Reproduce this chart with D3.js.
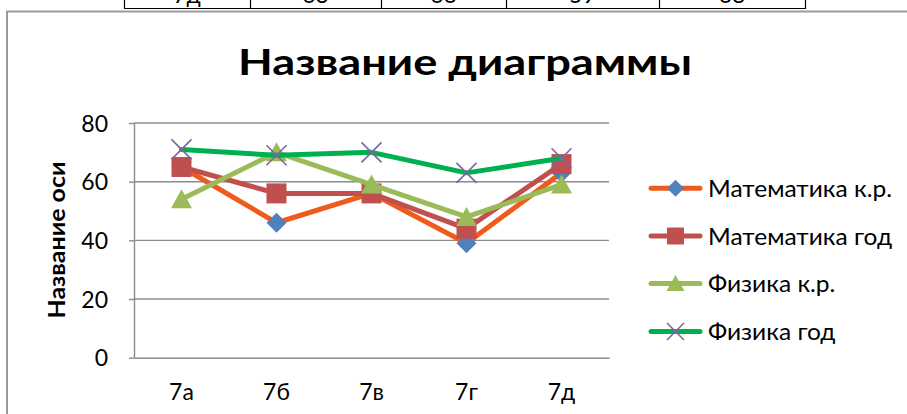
<!DOCTYPE html>
<html>
<head>
<meta charset="utf-8">
<script src="https://cdn.jsdelivr.net/npm/d3@7/dist/d3.min.js"></script>
<style>
  html, body { margin: 0; padding: 0; background: #fff; }
  svg { display: block; }
  text { font-family: Lato, "Open Sans", sans-serif; fill: #000; }
</style>
</head>
<body>
<svg id="chart" width="907" height="414"></svg>
<script>
// Классы и результаты
const classes = ["7а", "7б", "7в", "7г", "7д"];
const mathTest = [65, 46, 56, 39, 63];   // Математика к.р.
const mathYear = [65, 56, 56, 44, 66];   // Математика год
const physTest = [54, 70, 59, 48, 59];   // Физика к.р.
const physYear = [71, 69, 70, 63, 68];   // Физика год
const yTicks = [0, 20, 40, 60, 80];

const chartTitle = "Название диаграммы";
const yAxisTitle = "Название оси";

const series = [
  { name: "Математика к.р.", values: mathTest, line: "#EF5B1F", marker: "diamond", fill: "#4F81BD" },
  { name: "Математика год",  values: mathYear, line: "#C0504D", marker: "square",  fill: "#C0504D" },
  { name: "Физика к.р.",     values: physTest, line: "#9BBB59", marker: "triangle", fill: "#9BBB59" },
  { name: "Физика год",      values: physYear, line: "#00B050", marker: "cross",   fill: "#8064A2" }
];

const svg = d3.select("#chart");

// Fit a text element to a given width
function fitWidth(sel, width) {
  sel.attr("textLength", width).attr("lengthAdjust", "spacingAndGlyphs");
}

// Row of the data table above the chart (only its lower edge shows)
const tableCols = [124, 250, 381, 506, 659, 805];
const tableRow = [classes[4]].concat(series.map(s => String(s.values[4])));
const tableG = svg.append("g");
tableG.append("line")
  .attr("x1", tableCols[0]).attr("x2", tableCols[tableCols.length - 1])
  .attr("y1", 8.5).attr("y2", 8.5)
  .attr("stroke", "#000").attr("stroke-width", 1.2);
tableG.selectAll("line.col").data(tableCols).join("line")
  .attr("class", "col")
  .attr("x1", d => d + 0.5).attr("x2", d => d + 0.5)
  .attr("y1", 0).attr("y2", 9)
  .attr("stroke", "#000").attr("stroke-width", 1.2);
tableG.selectAll("text").data(tableRow).join("text")
  .attr("x", (d, i) => (tableCols[i] + tableCols[i + 1]) / 2)
  .attr("y", 3)
  .attr("text-anchor", "middle")
  .attr("font-size", 23)
  .text(d => d);

// Chart area frame
svg.append("rect")
  .attr("x", 7).attr("y", 11.5)
  .attr("width", 920).attr("height", 420)
  .attr("fill", "none")
  .attr("stroke", "#9a9a9a")
  .attr("stroke-width", 2);

// Title
const title = svg.append("text")
  .attr("x", 465).attr("y", 74.5)
  .attr("text-anchor", "middle")
  .attr("font-size", 37)
  .attr("font-weight", "bold")
  .text(chartTitle);
fitWidth(title, 454);

// Scales
const plot = { left: 134, right: 609, top: 123, bottom: 357.7 };
const x = d3.scaleBand().domain(classes).range([plot.left, plot.right]).padding(0);
const cx = c => x(c) + x.bandwidth() / 2;
const y = d3.scaleLinear().domain([0, 80]).range([plot.bottom, plot.top]);

// Gridlines
svg.append("g").selectAll("line").data(yTicks.filter(t => t > 0)).join("line")
  .attr("x1", plot.left).attr("x2", plot.right)
  .attr("y1", d => y(d)).attr("y2", d => y(d))
  .attr("stroke", "#8c8c8c").attr("stroke-width", 1.4);

// Value axis
const yAxis = svg.append("g")
  .attr("transform", `translate(${plot.left},0)`)
  .call(d3.axisLeft(y).tickValues(yTicks).tickSize(5).tickPadding(21).tickSizeOuter(0));
yAxis.select(".domain").attr("stroke", "#8c8c8c").attr("stroke-width", 1.4);
yAxis.selectAll(".tick line").attr("stroke", "#8c8c8c").attr("stroke-width", 1.4);
yAxis.selectAll(".tick text")
  .attr("font-family", "Lato, 'Open Sans', sans-serif")
  .attr("font-size", 23)
  .attr("fill", "#000")
  .attr("dy", "0.36em");

// Category axis
const xAxis = svg.append("g")
  .attr("transform", `translate(0,${plot.bottom})`)
  .call(d3.axisBottom(x).tickSize(0).tickPadding(0).tickSizeOuter(0));
xAxis.select(".domain").attr("stroke", "#8c8c8c").attr("stroke-width", 1.4);
xAxis.selectAll(".tick text")
  .attr("font-family", "Lato, 'Open Sans', sans-serif")
  .attr("font-size", 23)
  .attr("fill", "#000")
  .attr("dy", null)
  .attr("y", 42);

// Axis title
const yTitle = svg.append("text")
  .attr("transform", "translate(65,240) rotate(-90)")
  .attr("text-anchor", "middle")
  .attr("font-size", 23)
  .attr("font-weight", "bold")
  .text(yAxisTitle);
fitWidth(yTitle, 157);

// Marker drawing
function drawMarker(g, type, color, s) {
  const h = s / 2;
  if (type === "diamond") {
    g.append("path").attr("d", `M0,${-h}L${h},0L0,${h}L${-h},0Z`).attr("fill", color);
  } else if (type === "square") {
    g.append("rect").attr("x", -h).attr("y", -h).attr("width", s).attr("height", s).attr("fill", color);
  } else if (type === "triangle") {
    g.append("path").attr("d", `M0,${-h}L${h + 0.5},${h - 1}L${-h - 0.5},${h - 1}Z`).attr("fill", color);
  } else if (type === "cross") {
    g.append("path").attr("d", `M${-h},${-h}L${h},${h}M${h},${-h}L${-h},${h}`)
      .attr("stroke", color).attr("stroke-width", 1.6).attr("fill", "none");
  }
}

// Series lines and markers
const line = d3.line().x((d, i) => cx(classes[i])).y(d => y(d));
series.forEach(s => {
  const g = svg.append("g");
  g.append("path")
    .attr("d", line(s.values))
    .attr("fill", "none")
    .attr("stroke", s.line)
    .attr("stroke-width", 5)
    .attr("stroke-linejoin", "round")
    .attr("stroke-linecap", "round");
  s.values.forEach((v, i) => {
    drawMarker(g.append("g").attr("transform", `translate(${cx(classes[i])},${y(v)})`), s.marker, s.fill, 20);
  });
});

// Legend
const legend = svg.append("g");
const legendY = [188.3, 236, 283.5, 331.5];
let legendScale = null;
series.forEach((s, i) => {
  const g = legend.append("g").attr("transform", `translate(0,${legendY[i]})`);
  g.append("line")
    .attr("x1", 651).attr("x2", 700).attr("y1", 0).attr("y2", 0)
    .attr("stroke", s.line).attr("stroke-width", 5).attr("stroke-linecap", "round");
  drawMarker(g.append("g").attr("transform", "translate(675.5,0)"), s.marker, s.fill, 17);
  const t = g.append("text")
    .attr("x", 708).attr("y", 8.5)
    .attr("font-size", 24)
    .text(s.name);
  if (legendScale === null) legendScale = 184 / t.node().getComputedTextLength();
  fitWidth(t, t.node().getComputedTextLength() * legendScale);
});
</script>
</body>
</html>
